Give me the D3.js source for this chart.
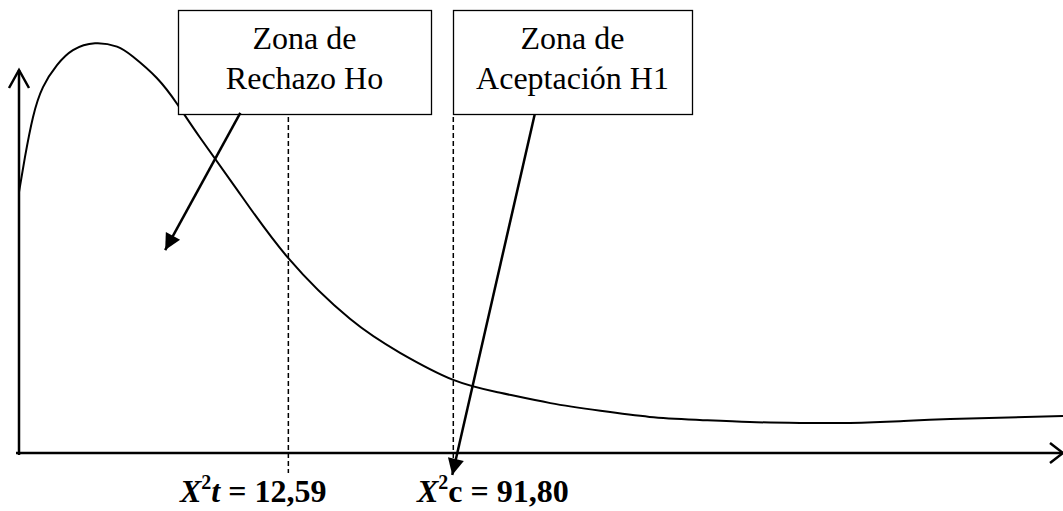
<!DOCTYPE html>
<html>
<head>
<meta charset="utf-8">
<script src="https://cdn.jsdelivr.net/npm/d3@7/dist/d3.min.js"></script>
<style>
  html, body { margin: 0; padding: 0; background: #fff; }
  svg { display: block; }
</style>
</head>
<body>
<div id="chart"></div>
<script>
// curve (x: 0-100 along the axis, y: 0-100 height units)
const curveX = [0, 0.57, 1.34, 2.3, 3.64, 5.17, 7.28, 9.39, 10.9, 13.2, 15.2, 17.3, 20.9, 25.8, 31.7,
  36.5, 41.6, 46.1, 50.9, 55.7, 60.4, 65.2, 70.0, 74.8, 79.6, 84.4, 89.2, 100];
const curveY = [60.7, 68.8, 78.1, 85.1, 90.2, 93.7, 95.3, 94.5, 92.2, 87.2, 81.0, 73.5, 61.2, 45.3, 31.2,
  23.3, 17.0, 14.0, 11.6, 9.8, 8.4, 7.7, 7.2, 7.0, 7.0, 7.4, 7.9, 8.6];

// critical values: label and where the dashed line sits on the axis
const critLabels = [['X', '2', 't', ' = 12,59'], ['X', '2', 'c', ' = 91,80']];
const critX = [25.8, 41.6];

const boxLines = [['Zona de', 'Rechazo Ho'], ['Zona de', 'Aceptación H1']];
// arrows from box to target, [x0, y0, x1, y1] in data units
const arrows = [[21.2, 79.1, 14.0, 47.2], [49.4, 78.8, 41.5, -5.1]];

const width = 1063, height = 511;
const x = d3.scaleLinear().domain([0, 100]).range([19, 1063]);
const y = d3.scaleLinear().domain([0, 100]).range([453, 23]);

const svg = d3.select('#chart').append('svg')
  .attr('width', width).attr('height', height);

const defs = svg.append('defs');
defs.append('marker')
  .attr('id', 'head')
  .attr('viewBox', '0 0 10 10')
  .attr('refX', 10).attr('refY', 5)
  .attr('markerWidth', 8).attr('markerHeight', 6.5)
  .attr('markerUnits', 'strokeWidth')
  .attr('orient', 'auto')
  .append('path')
    .attr('d', 'M0,0 L10,5 L0,10 Z')
    .attr('fill', '#000');

// axes
const axes = svg.append('g').attr('stroke', '#000').attr('stroke-width', 2.5).attr('fill', 'none');
axes.append('line').attr('x1', x(0)).attr('y1', y(0) + 2).attr('x2', x(0)).attr('y2', 70);
axes.append('path').attr('d', `M${x(0) - 10},88 L${x(0)},70 L${x(0) + 10},88`);
axes.append('line').attr('x1', x(0) - 3).attr('y1', y(0)).attr('x2', x(100)).attr('y2', y(0));
axes.append('path').attr('d', `M${x(100) - 13},${y(0) - 10} L${x(100)},${y(0)} L${x(100) - 13},${y(0) + 10}`);

// curve
const pts = curveX.map((v, i) => [v, curveY[i]]);
svg.append('path')
  .datum(pts)
  .attr('fill', 'none')
  .attr('stroke', '#000')
  .attr('stroke-width', 2)
  .attr('d', d3.line().x(d => x(d[0])).y(d => y(d[1])).curve(d3.curveNatural));

// dashed critical lines
svg.selectAll('.crit')
  .data(critX)
  .enter().append('line')
    .attr('class', 'crit')
    .attr('x1', d => x(d)).attr('x2', d => x(d))
    .attr('y1', 117)
    .attr('y2', (d, i) => i === 0 ? 473 : 462)
    .attr('stroke', '#000')
    .attr('stroke-width', 1.5)
    .attr('stroke-dasharray', '5,3');

// boxes
const boxes = [{x0: 178, x1: 431}, {x0: 453, x1: 692}];
const box = svg.selectAll('.box')
  .data(boxes)
  .enter().append('g')
    .attr('class', 'box');

box.append('rect')
  .attr('x', d => d.x0 + 0.5).attr('y', 10.5)
  .attr('width', d => d.x1 - d.x0).attr('height', 104)
  .attr('fill', '#fff')
  .attr('stroke', '#000')
  .attr('stroke-width', 1.3);

box.append('text')
  .attr('x', d => (d.x0 + d.x1) / 2)
  .attr('text-anchor', 'middle')
  .attr('font-family', '"Liberation Serif", "Times New Roman", serif')
  .attr('font-size', 32)
  .selectAll('tspan')
  .data((d, i) => boxLines[i])
  .enter().append('tspan')
    .attr('x', function () { return d3.select(this.parentNode).attr('x'); })
    .attr('y', (d, i) => 49 + i * 40)
    .text(d => d);

// arrows
svg.selectAll('.arrow')
  .data(arrows)
  .enter().append('line')
    .attr('class', 'arrow')
    .attr('x1', d => x(d[0])).attr('y1', d => y(d[1]))
    .attr('x2', d => x(d[2])).attr('y2', d => y(d[3]))
    .attr('stroke', '#000')
    .attr('stroke-width', 2.5)
    .attr('marker-end', 'url(#head)');

// critical value labels
const labelX = [180, 417];
const lab = svg.selectAll('.lab')
  .data(critLabels)
  .enter().append('text')
    .attr('class', 'lab')
    .attr('x', (d, i) => labelX[i])
    .attr('y', 502)
    .attr('font-family', '"Liberation Serif", "Times New Roman", serif')
    .attr('font-weight', 'bold')
    .attr('font-size', 32);

lab.append('tspan').attr('font-style', 'italic').text(d => d[0]);
lab.append('tspan').attr('font-size', 20).attr('dy', -13).text(d => d[1]);
lab.append('tspan').attr('dy', 13)
  .attr('font-style', (d, i) => i === 0 ? 'italic' : 'normal')
  .text(d => d[2]);
lab.append('tspan').text(d => d[3]);
</script>
</body>
</html>
